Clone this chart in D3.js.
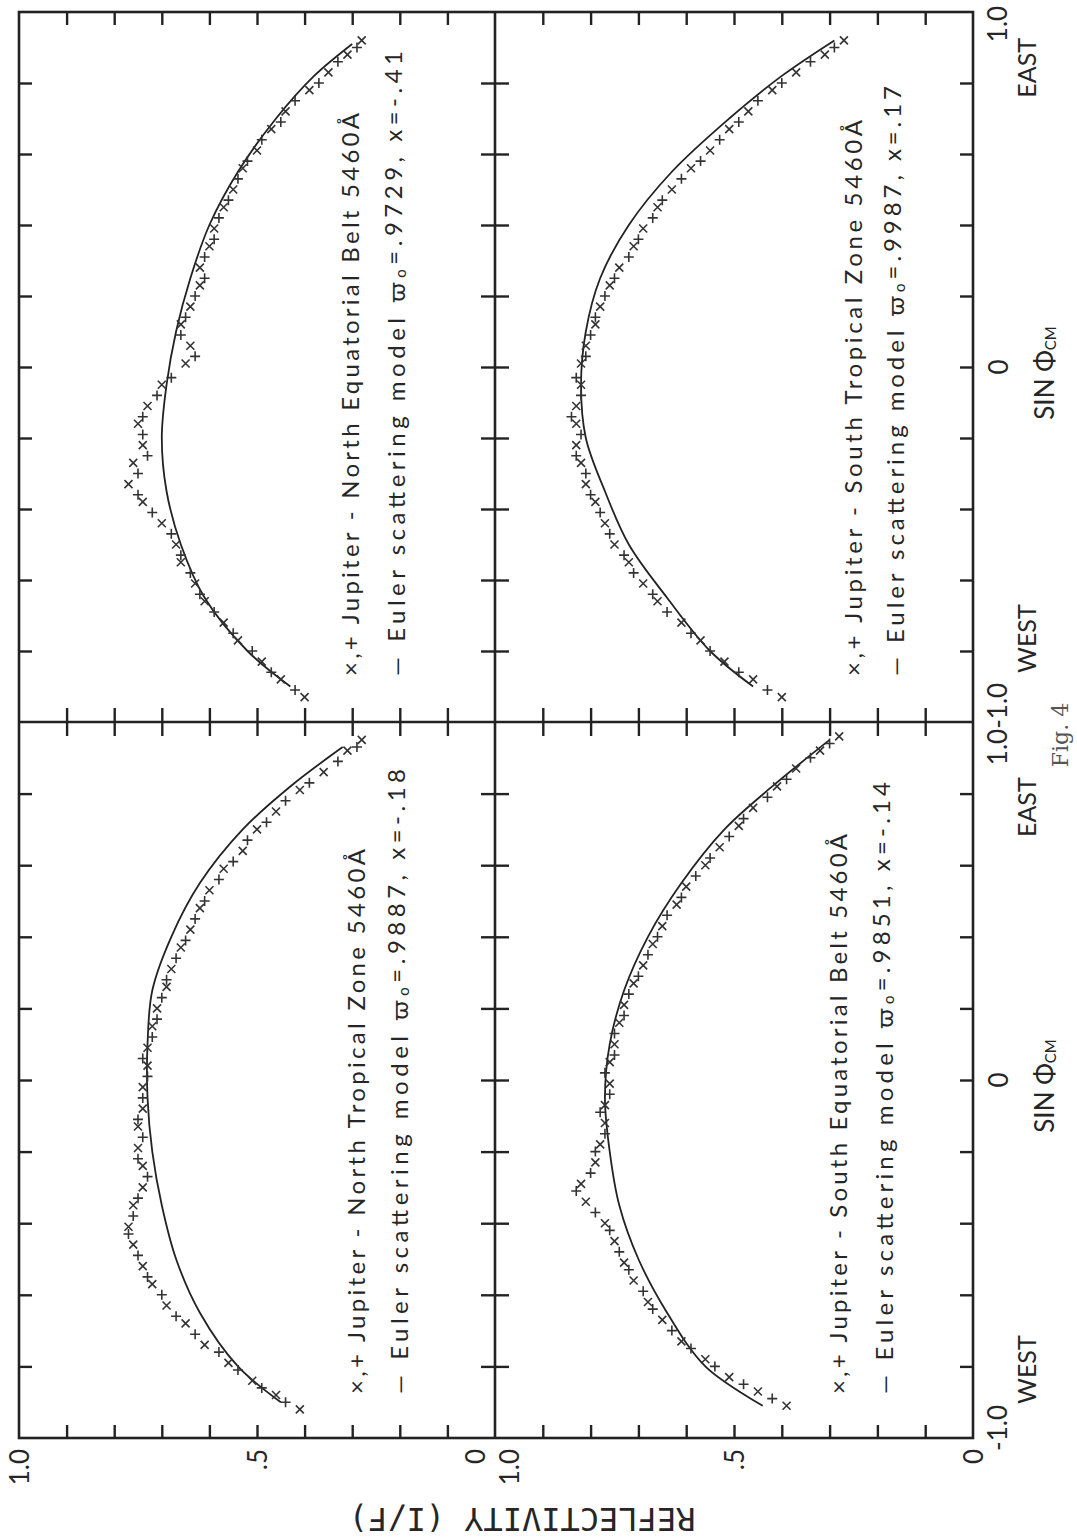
<!DOCTYPE html>
<html lang="en">
<head>
<meta charset="utf-8">
<title>Fig. 4 | Jupiter reflectivity against sin of central meridian angle</title>
<script src="https://d3js.org/d3.v7.min.js"></script>
<style>
	body { margin: 0; background: #fff; }
	svg text { fill: #262626; font-family: Lato, "Noto Sans", "DejaVu Sans", sans-serif; }
	.tick line { stroke: #222; stroke-width: 2.4; }
</style>
</head>
<body>
<div id="chart"></div>
<script>
// ---------- axis values ----------
const reflTickValues = [0.1, 0.2, 0.3, 0.4, 0.5, 0.6, 0.7, 0.8, 0.9];
const reflLabelValues = [1, 0.5, 0];
const reflLabelText = ["1.0", ".5", "0"];
const sinTickValues = [-0.8, -0.6, -0.4, -0.2, 0, 0.2, 0.4, 0.6, 0.8];

// ---------- panel texts ----------
const panelRegions = ["North Equatorial Belt", "South Tropical Zone", "North Tropical Zone", "South Equatorial Belt"];
const panelAlbedo = [".9729", ".9987", ".9887", ".9851"];
const panelAsym = ["-.41", ".17", "-.18", "-.14"];

// ---------- North Equatorial Belt (sin, reflectivity) ----------
const nebSinX  = [-0.93,-0.88,-0.83,-0.77,-0.72,-0.66,-0.61,-0.55,-0.50,-0.44,-0.38,-0.33,-0.27,-0.22,-0.16,-0.11,-0.05,0.01,0.06,0.12,0.17,0.23,0.28,0.34,0.39,0.45,0.50,0.56,0.61,0.67,0.72,0.78,0.83,0.88,0.92];
const nebReflX = [0.40,0.45,0.49,0.54,0.57,0.61,0.63,0.66,0.67,0.70,0.74,0.77,0.76,0.74,0.75,0.73,0.70,0.65,0.64,0.66,0.64,0.62,0.62,0.60,0.59,0.57,0.55,0.53,0.50,0.47,0.44,0.39,0.35,0.31,0.28];
const nebSinP  = [-0.91,-0.86,-0.80,-0.75,-0.69,-0.64,-0.58,-0.53,-0.47,-0.41,-0.36,-0.30,-0.25,-0.19,-0.14,-0.08,-0.03,0.03,0.09,0.14,0.20,0.25,0.31,0.36,0.42,0.47,0.53,0.58,0.64,0.69,0.75,0.80,0.86,0.90];
const nebReflP = [0.42,0.47,0.51,0.55,0.59,0.62,0.64,0.66,0.68,0.72,0.75,0.75,0.73,0.74,0.74,0.71,0.68,0.63,0.66,0.65,0.63,0.61,0.61,0.59,0.58,0.56,0.54,0.52,0.49,0.45,0.42,0.37,0.33,0.29];
const nebModelSin  = [-0.90,-0.80,-0.65,-0.50,-0.35,-0.20,-0.05,0.10,0.25,0.40,0.55,0.70,0.82,0.91];
const nebModelRefl = [0.43,0.52,0.61,0.66,0.69,0.70,0.69,0.67,0.64,0.60,0.54,0.46,0.38,0.30];

// ---------- South Tropical Zone ----------
const strzSinX  = [-0.93,-0.88,-0.83,-0.77,-0.72,-0.66,-0.61,-0.55,-0.50,-0.44,-0.38,-0.33,-0.27,-0.22,-0.16,-0.11,-0.05,0.01,0.06,0.12,0.17,0.23,0.28,0.34,0.39,0.45,0.50,0.56,0.61,0.67,0.72,0.78,0.83,0.88,0.92];
const strzReflX = [0.40,0.46,0.52,0.57,0.61,0.66,0.69,0.72,0.75,0.77,0.79,0.81,0.82,0.83,0.83,0.83,0.82,0.82,0.81,0.79,0.78,0.76,0.74,0.71,0.69,0.66,0.63,0.59,0.55,0.51,0.47,0.42,0.37,0.31,0.27];
const strzSinP  = [-0.91,-0.86,-0.80,-0.75,-0.69,-0.64,-0.58,-0.53,-0.47,-0.41,-0.36,-0.30,-0.25,-0.19,-0.14,-0.08,-0.03,0.03,0.09,0.14,0.20,0.25,0.31,0.36,0.42,0.47,0.53,0.58,0.64,0.69,0.75,0.80,0.86,0.90];
const strzReflP = [0.43,0.49,0.55,0.59,0.64,0.67,0.71,0.73,0.76,0.78,0.80,0.81,0.83,0.82,0.84,0.82,0.83,0.81,0.80,0.79,0.77,0.75,0.72,0.70,0.67,0.65,0.61,0.57,0.53,0.49,0.45,0.40,0.34,0.29];
const strzModelSin  = [-0.90,-0.80,-0.65,-0.50,-0.35,-0.20,-0.05,0.10,0.25,0.40,0.55,0.70,0.82,0.92];
const strzModelRefl = [0.46,0.55,0.64,0.72,0.77,0.81,0.82,0.81,0.78,0.72,0.63,0.51,0.40,0.29];

// ---------- North Tropical Zone ----------
const ntrzSinX  = [-0.92,-0.88,-0.84,-0.79,-0.74,-0.68,-0.63,-0.57,-0.52,-0.46,-0.41,-0.35,-0.30,-0.24,-0.19,-0.13,-0.08,-0.02,0.04,0.09,0.15,0.20,0.26,0.31,0.37,0.42,0.48,0.53,0.59,0.64,0.70,0.75,0.81,0.86,0.92,0.95];
const ntrzReflX = [0.41,0.46,0.51,0.56,0.61,0.65,0.69,0.72,0.74,0.76,0.77,0.76,0.74,0.74,0.75,0.75,0.74,0.74,0.73,0.73,0.72,0.71,0.69,0.68,0.66,0.64,0.62,0.60,0.57,0.53,0.50,0.46,0.41,0.36,0.31,0.28];
const ntrzSinP  = [-0.90,-0.86,-0.81,-0.76,-0.71,-0.66,-0.60,-0.55,-0.49,-0.43,-0.38,-0.33,-0.27,-0.22,-0.16,-0.11,-0.05,0.01,0.06,0.12,0.17,0.23,0.28,0.34,0.39,0.45,0.50,0.56,0.61,0.67,0.72,0.78,0.83,0.89,0.93];
const ntrzReflP = [0.44,0.49,0.54,0.58,0.63,0.67,0.70,0.73,0.75,0.77,0.76,0.75,0.73,0.75,0.74,0.75,0.74,0.73,0.74,0.72,0.71,0.70,0.69,0.67,0.65,0.63,0.61,0.58,0.55,0.52,0.48,0.44,0.39,0.33,0.29];
const ntrzModelSin  = [-0.90,-0.80,-0.65,-0.50,-0.35,-0.20,-0.05,0.10,0.25,0.40,0.55,0.70,0.82,0.93];
const ntrzModelRefl = [0.45,0.54,0.62,0.67,0.70,0.72,0.73,0.73,0.72,0.68,0.62,0.53,0.43,0.32];

// ---------- South Equatorial Belt ----------
const sebSinX  = [-0.91,-0.87,-0.83,-0.78,-0.73,-0.67,-0.62,-0.56,-0.51,-0.45,-0.40,-0.34,-0.29,-0.23,-0.18,-0.12,-0.07,-0.01,0.05,0.10,0.16,0.21,0.27,0.32,0.38,0.43,0.49,0.54,0.60,0.65,0.71,0.76,0.82,0.87,0.92,0.96];
const sebReflX = [0.39,0.45,0.51,0.56,0.61,0.65,0.68,0.71,0.73,0.75,0.77,0.81,0.82,0.79,0.78,0.77,0.77,0.76,0.76,0.75,0.74,0.73,0.71,0.69,0.67,0.65,0.62,0.60,0.56,0.53,0.49,0.46,0.41,0.37,0.32,0.28];
const sebSinP  = [-0.89,-0.85,-0.80,-0.75,-0.70,-0.64,-0.59,-0.53,-0.48,-0.42,-0.37,-0.31,-0.26,-0.20,-0.15,-0.09,-0.04,0.02,0.07,0.13,0.18,0.24,0.29,0.35,0.40,0.46,0.51,0.57,0.62,0.68,0.73,0.79,0.84,0.90,0.94];
const sebReflP = [0.42,0.48,0.54,0.59,0.63,0.67,0.69,0.72,0.74,0.76,0.79,0.83,0.80,0.79,0.77,0.78,0.76,0.77,0.75,0.75,0.73,0.72,0.70,0.68,0.66,0.64,0.61,0.58,0.55,0.51,0.48,0.43,0.39,0.34,0.30];
const sebModelSin  = [-0.91,-0.80,-0.65,-0.50,-0.35,-0.20,-0.05,0.10,0.25,0.40,0.55,0.70,0.82,0.95];
const sebModelRefl = [0.44,0.56,0.64,0.70,0.74,0.76,0.77,0.76,0.73,0.68,0.61,0.52,0.42,0.30];

// ---------- layout ----------
const W = 1077, H = 1539;
const frameLeft = 19, midX = 495, frameRight = 973;
const frameTop = 12, midY = 722, frameBottom = 1438;
const ink = "#222";

const colScales = [
	d3.scaleLinear().domain([1, 0]).range([frameLeft, midX]),
	d3.scaleLinear().domain([1, 0]).range([midX, frameRight])
];
const rowScales = [
	d3.scaleLinear().domain([-1, 1]).range([midY, frameTop]),
	d3.scaleLinear().domain([-1, 1]).range([frameBottom, midY])
];

const zip = (a, b) => a.map((v, i) => [v, b[i]]);

// panel order: top-left, top-right, bottom-left, bottom-right
const panels = [
	{ col: 0, row: 0, cross: zip(nebSinX, nebReflX), plus: zip(nebSinP, nebReflP), model: zip(nebModelSin, nebModelRefl) },
	{ col: 1, row: 0, cross: zip(strzSinX, strzReflX), plus: zip(strzSinP, strzReflP), model: zip(strzModelSin, strzModelRefl) },
	{ col: 0, row: 1, cross: zip(ntrzSinX, ntrzReflX), plus: zip(ntrzSinP, ntrzReflP), model: zip(ntrzModelSin, ntrzModelRefl) },
	{ col: 1, row: 1, cross: zip(sebSinX, sebReflX), plus: zip(sebSinP, sebReflP), model: zip(sebModelSin, sebModelRefl) }
];
// legend text lines: x centre of each line, start y, lengths
const legendLayout = [
	{ x1: 349, x2: 395, y: 676, len1: 563, len2: 625 },
	{ x1: 852, x2: 894, y: 676, len1: 556, len2: 590 },
	{ x1: 355, x2: 398, y: 1394, len1: 545, len2: 625 },
	{ x1: 837, x2: 883, y: 1394, len1: 560, len2: 612 }
];

const svg = d3.select("#chart").append("svg")
	.attr("width", W)
	.attr("height", H);
svg.append("rect").attr("width", W).attr("height", H).attr("fill", "#fff");

// rotated text helper (reads bottom to top like the scanned figure)
function vText(x, y, anchor, size) {
	return svg.append("text")
		.attr("transform", `translate(${x},${y}) rotate(-90)`)
		.attr("text-anchor", anchor)
		.attr("dominant-baseline", "central")
		.style("font-size", size + "px");
}

// ---------- data marks ----------
const crossPath = "M-4,-4L4,4M-4,4L4,-4";
const plusPath = "M-5,0L5,0M0,-5L0,5";

panels.forEach((p, i) => {
	const xs = colScales[p.col];
	const ys = rowScales[p.row];
	const g = svg.append("g");

	g.append("path")
		.datum(p.model)
		.attr("fill", "none")
		.attr("stroke", ink)
		.attr("stroke-width", 1.8)
		.attr("d", d3.line()
			.x(d => xs(d[1]))
			.y(d => ys(d[0]))
			.curve(d3.curveCatmullRom));

	g.selectAll("path.cross")
		.data(p.cross)
		.join("path")
		.attr("class", "cross")
		.attr("d", crossPath)
		.attr("transform", d => `translate(${xs(d[1])},${ys(d[0])})`)
		.attr("stroke", "#333")
		.attr("stroke-width", 1.6)
		.attr("fill", "none");

	g.selectAll("path.plus")
		.data(p.plus)
		.join("path")
		.attr("class", "plus")
		.attr("d", plusPath)
		.attr("transform", d => `translate(${xs(d[1])},${ys(d[0])})`)
		.attr("stroke", "#333")
		.attr("stroke-width", 1.6)
		.attr("fill", "none");

	// legend lines
	const L = legendLayout[i];
	vText(L.x1, L.y, "start", 24)
		.attr("textLength", L.len1)
		.attr("lengthAdjust", "spacing")
		.text("×,+ Jupiter - " + panelRegions[i] + " 5460Å");
	const t2 = vText(L.x2, L.y, "start", 24)
		.attr("textLength", L.len2)
		.attr("lengthAdjust", "spacing");
	t2.append("tspan").text("— Euler scattering model  ϖ");
	t2.append("tspan").attr("dy", "0.35em").style("font-size", "15px").text("o");
	t2.append("tspan").attr("dy", "-0.35em").text("=" + panelAlbedo[i] + ", x=" + panelAsym[i]);
});

// ---------- frame and dividers ----------
svg.append("rect")
	.attr("x", frameLeft).attr("y", frameTop)
	.attr("width", frameRight - frameLeft).attr("height", frameBottom - frameTop)
	.attr("fill", "none").attr("stroke", ink).attr("stroke-width", 2.6);
svg.append("line")
	.attr("x1", midX).attr("x2", midX).attr("y1", frameTop).attr("y2", frameBottom)
	.attr("stroke", ink).attr("stroke-width", 2.6);
svg.append("line")
	.attr("x1", frameLeft).attr("x2", frameRight).attr("y1", midY).attr("y2", midY)
	.attr("stroke", ink).attr("stroke-width", 2.6);

// ---------- ticks ----------
function ticks(axis, tx, ty, size) {
	const g = svg.append("g")
		.attr("transform", `translate(${tx},${ty})`)
		.call(axis.tickSize(size).tickSizeOuter(0).tickFormat(""));
	g.select(".domain").remove();
}
colScales.forEach(xs => {
	ticks(d3.axisBottom(xs).tickValues(reflTickValues), 0, frameTop, 13);
	ticks(d3.axisTop(xs).tickValues(reflTickValues), 0, frameBottom, 13);
	ticks(d3.axisBottom(xs).tickValues(reflTickValues), 0, midY, 14);
	ticks(d3.axisTop(xs).tickValues(reflTickValues), 0, midY, 14);
});
rowScales.forEach(ys => {
	ticks(d3.axisRight(ys).tickValues(sinTickValues), frameLeft, 0, 13);
	ticks(d3.axisLeft(ys).tickValues(sinTickValues), frameRight, 0, 13);
	ticks(d3.axisRight(ys).tickValues(sinTickValues), midX, 0, 14);
	ticks(d3.axisLeft(ys).tickValues(sinTickValues), midX, 0, 14);
});

// ---------- reflectivity tick labels (below frame) ----------
colScales.forEach((xs, c) => {
	reflLabelValues.forEach((v, i) => {
		let dx = 0;
		if (c === 0 && v === 0) dx = -20;   // keep the two labels at the divider apart
		if (c === 1 && v === 1) dx = 14;
		vText(xs(v) + dx, frameBottom + 11, "end", 26).text(reflLabelText[i]);
	});
});

// ---------- sin axis labels (right side) ----------
vText(997, rowScales[0](1) + 12, "middle", 26).text("1.0");
vText(1026, 38, "end", 25).text("EAST");
vText(997, midY + 2, "middle", 26).text("1.0-1.0");
vText(1026, 673, "start", 25).text("WEST");
vText(1026, 837, "start", 25).text("EAST");
vText(997, rowScales[1](-1) - 10, "middle", 26).text("-1.0");
vText(1026, 1404, "start", 25).text("WEST");
rowScales.forEach(ys => {
	vText(998, ys(0), "middle", 26).text("0");
	const s = vText(1044, ys(0) + 6, "middle", 26);
	s.append("tspan").text("SIN Φ");
	s.append("tspan").attr("dy", "0.4em").style("font-size", "15px").text("CM");
});

// ---------- y title (upside down, as scanned) ----------
svg.append("text")
	.attr("transform", "translate(522,1519) rotate(180)")
	.attr("text-anchor", "middle")
	.attr("dominant-baseline", "central")
	.style("font-family", "'DejaVu Sans Mono', monospace")
	.style("font-size", "32px")
	.text("REFLECTIVITY (I/F)");

// figure number near the page edge
svg.append("text")
	.attr("transform", "translate(1060,735) rotate(-90)")
	.attr("text-anchor", "middle")
	.attr("dominant-baseline", "central")
	.style("font-family", "'DejaVu Serif', serif")
	.style("font-size", "22px")
	.style("fill", "#555")
	.text("Fig. 4");
</script>
</body>
</html>
